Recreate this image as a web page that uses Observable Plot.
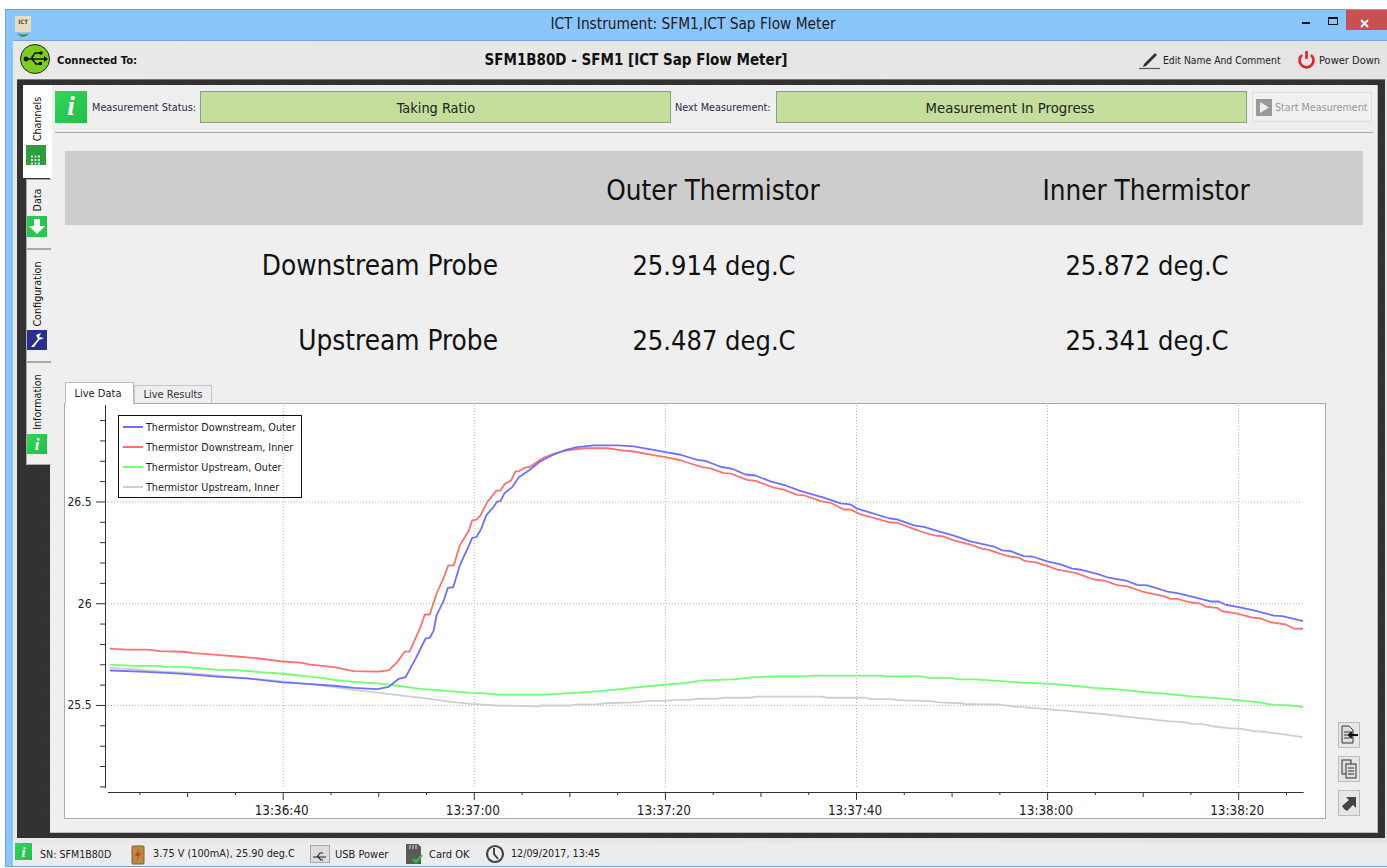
<!DOCTYPE html>
<html>
<head>
<meta charset="utf-8">
<script src="https://cdn.jsdelivr.net/npm/d3@7"></script>
<script src="https://cdn.jsdelivr.net/npm/@observablehq/plot@0.6"></script>
<style>
html,body{margin:0;padding:0;background:#fff;}
#app{position:relative;width:1387px;height:868px;overflow:hidden;background:#fff;
 font-family:"DejaVu Sans Condensed","DejaVu Sans",sans-serif;font-stretch:condensed;color:#111;}
.a{position:absolute;box-sizing:border-box;}
.t{position:absolute;white-space:nowrap;line-height:1;}
.vt{position:absolute;white-space:nowrap;line-height:1;transform:translate(-50%,-50%) rotate(-90deg);font-size:10.7px;}
svg{overflow:visible;}
</style>
</head>
<body>
<div id="app"></div>
<script>
// Sample times, in seconds after 13:36:00
const downOuterSec = [21.93,25.07,29.25,33.44,36.23,40,42.86,45.30,47.39,49.84,51.05,52.10,52.80,53.85,54.89,55.34,55.76,56.04,56.81,57.23,57.79,58.48,59.43,59.78,60.23,60.72,61.25,61.98,62.40,62.74,63.16,63.97,64.66,65.70,66.93,68.32,69.37,70.77,72.51,75.12,76.69,78.44,80.01,81.58,83.33,84.20,85.77,86.99,88.38,89.43,91.00,92.57,93.96,95.19,96.58,98.33,99.37,100.07,101.46,103.38,104.26,106.00,107.04,108.61,110.18,111.93,114.37,115.25,116.12,117.51,118.39,119.96,121.35,122.58,123.45,125.19,126.24,128.16,129.38,130.43,132.52,133.57,135.31,137.05,137.92,138.62,140.01,141.58,143.68,144.56,146.65];
const downOuterVal = [25.672,25.666,25.657,25.641,25.633,25.614,25.605,25.597,25.587,25.580,25.592,25.631,25.639,25.729,25.828,25.833,25.869,25.942,26.016,26.078,26.081,26.188,26.286,26.324,26.327,26.368,26.434,26.474,26.502,26.504,26.543,26.573,26.622,26.655,26.700,26.733,26.753,26.769,26.778,26.778,26.773,26.758,26.745,26.732,26.707,26.702,26.673,26.663,26.635,26.630,26.601,26.581,26.557,26.540,26.521,26.493,26.488,26.467,26.448,26.420,26.414,26.385,26.378,26.355,26.335,26.306,26.281,26.262,26.258,26.234,26.232,26.208,26.193,26.172,26.167,26.147,26.130,26.114,26.093,26.090,26.060,26.052,26.032,26.011,26.011,25.995,25.983,25.967,25.942,25.939,25.916];

const downInnerSec = [21.93,23.67,25.77,27.16,29.60,30.64,33.09,34.83,37.28,40,41.81,42.86,45.30,47.39,49.84,51.05,51.93,52.73,53.22,54.37,54.82,55.34,56.04,56.81,57.27,57.85,58.48,59.43,59.78,60.23,60.65,61.35,62.32,62.74,63.19,63.86,64.31,64.66,65.25,65.88,67.11,68.32,69.72,71.46,73.91,75.30,76.69,78.44,80.01,81.58,82.63,83.85,84.72,86.11,86.81,88.56,89.43,91.35,92.39,93.80,94.49,96.23,97.28,98.67,99.37,100.42,102.17,103.56,104.26,106.00,107.04,108.27,108.97,110.18,111.93,112.98,113.85,115.07,116.12,116.99,117.69,118.74,120.13,121.01,122.92,124.84,125.89,127.29,128.33,129.90,132.16,132.86,133.57,134.96,136.01,136.53,137.75,138.27,139.85,141.58,142.28,143.33,144.90,145.77,146.65];
const downInnerVal = [25.779,25.774,25.774,25.767,25.764,25.757,25.749,25.742,25.732,25.716,25.711,25.701,25.688,25.669,25.666,25.673,25.713,25.765,25.765,25.885,25.947,25.947,26.049,26.130,26.188,26.188,26.286,26.360,26.409,26.413,26.434,26.499,26.556,26.556,26.589,26.606,26.650,26.651,26.668,26.674,26.714,26.737,26.753,26.764,26.764,26.755,26.748,26.733,26.720,26.705,26.689,26.671,26.665,26.642,26.640,26.609,26.604,26.570,26.561,26.535,26.533,26.504,26.496,26.463,26.463,26.439,26.417,26.399,26.398,26.368,26.350,26.334,26.332,26.311,26.291,26.272,26.265,26.245,26.232,26.226,26.209,26.203,26.183,26.168,26.152,26.119,26.114,26.091,26.085,26.060,26.037,26.024,26.024,26.006,26.000,25.986,25.980,25.963,25.951,25.931,25.928,25.909,25.898,25.878,25.877];

const upOuterSec = [21.93,24.36,27.16,27.50,29.60,31.34,33.09,34.83,37.62,40,42.51,44.25,45.30,47.39,50.18,51.93,54.37,57.16,59.60,61.0,62.41,67.32,69.42,72.21,74.56,76.42,80.16,82.03,83.89,87.17,89.04,91.14,94.87,95.34,102.58,103.05,106.79,107.49,109.83,110.53,112.40,114.74,117.06,119.88,122.68,124.79,127.35,130.15,132.52,135.31,137.75,140.01,141.94,143.68,145.42,146.65];
const upOuterVal = [25.701,25.695,25.695,25.690,25.690,25.683,25.675,25.675,25.664,25.656,25.643,25.634,25.626,25.616,25.607,25.597,25.582,25.572,25.562,25.560,25.553,25.553,25.559,25.567,25.577,25.587,25.603,25.610,25.623,25.628,25.638,25.643,25.643,25.647,25.647,25.643,25.643,25.636,25.636,25.629,25.628,25.621,25.613,25.607,25.597,25.587,25.579,25.565,25.557,25.544,25.536,25.525,25.516,25.503,25.500,25.492];

const upInnerSec = [21.93,24.36,27.16,29.60,32.05,34.83,37.62,40,42.86,45.30,47.74,50.18,52.80,54.72,57.16,59.60,62.41,65.67,66.61,67.07,70.11,70.80,72.91,73.62,76.65,78.29,80.16,80.86,82.50,83.43,85.30,86.0,88.94,89.50,96.28,96.97,100.95,101.42,103.76,104.22,107.73,108.67,110.99,111.46,114.74,116.60,119.88,122.68,125.96,130.14,132.52,134.26,135.14,136.18,137.23,139.15,140.01,141.58,142.63,144.72,146.65];
const upInnerVal = [25.685,25.678,25.667,25.661,25.651,25.639,25.628,25.618,25.605,25.590,25.574,25.562,25.546,25.536,25.520,25.508,25.500,25.497,25.495,25.500,25.500,25.505,25.505,25.511,25.515,25.523,25.523,25.528,25.528,25.533,25.533,25.538,25.538,25.544,25.544,25.538,25.538,25.531,25.531,25.526,25.521,25.515,25.511,25.506,25.505,25.495,25.482,25.471,25.457,25.435,25.423,25.418,25.410,25.408,25.398,25.388,25.387,25.374,25.371,25.358,25.344];

const seriesNames = ["Thermistor Downstream, Outer","Thermistor Downstream, Inner","Thermistor Upstream, Outer","Thermistor Upstream, Inner"];
const seriesColors = ["#6f6fff","#ff7070","#70ff70","#cfcfcf"];
const yMajor = [25.5,26,26.5];
const yMinor = [25.1,25.2,25.3,25.4,25.6,25.7,25.8,25.9,26.1,26.2,26.3,26.4,26.6,26.7,26.8,26.9];
const xDomainSec = [21.716,146.75];
const xMajorSec = [40,60,80,100,120,140];
const xMediumSec = [30,50,70,90,110,130];
const xMinorSec = [25,35,45,55,65,75,85,95,105,115,125,135,145];
const yDomain = [25.097,26.974];
const probeRows = ["Downstream Probe","Upstream Probe"];
const outerReadings = ["25.914 deg.C","25.487 deg.C"];
const innerReadings = ["25.872 deg.C","25.341 deg.C"];

const app = document.getElementById("app");
function box(x,y,w,h,css){const d=document.createElement("div");d.className="a";
 d.style.cssText=`left:${x}px;top:${y}px;width:${w}px;height:${h}px;${css||""}`;app.appendChild(d);return d;}
function text(s,x,cy,size,opt){opt=opt||{};const d=document.createElement("div");d.className="t";d.textContent=s;
 const tx=opt.anchor==="middle"?"-50%":opt.anchor==="end"?"-100%":"0";
 d.style.cssText=`left:${x}px;top:${cy}px;font-size:${size}px;transform:translate(${tx},-50%);${opt.css||""}`;app.appendChild(d);return d;}
function vtext(s,x,cy){const d=document.createElement("div");d.className="vt";d.textContent=s;d.style.left=x+"px";d.style.top=cy+"px";app.appendChild(d);}
function icon(x,y,w,h,inner){const d=document.createElement("div");d.className="a";d.style.cssText=`left:${x}px;top:${y}px;width:${w}px;height:${h}px;`;
 d.innerHTML=`<svg width="${w}" height="${h}" viewBox="0 0 ${w} ${h}">${inner}</svg>`;app.appendChild(d);}
function infoIcon(x,y,s){box(x,y,s,s,"background:linear-gradient(135deg,#35d45a,#1fc04a);");
 const d=text("i",x+s/2,y+s/2,s*0.85,{anchor:"middle",css:"color:#fff;font-weight:bold;font-style:italic;font-family:'Liberation Serif',serif;"});}

// Window frame
box(5,9,1382,858,"background:#8ac5fb;border:1px solid #6fa3d6;border-right:none;");
box(13,40,1374,826,"background:linear-gradient(90deg,#e9e9e9,#e4e4e4);border-top:1px solid #77a7d8;");
text("ICT Instrument: SFM1,ICT Sap Flow Meter",693,25,15.3,{anchor:"middle",css:"color:#1a1a1a;"});
box(15,16,16,16,"background:#e8dcc0;");
text("ICT",23,22,6,{anchor:"middle",css:"color:#444;font-weight:bold;"});
icon(15,25,16,7,`<path d="M2 0Q8 8 14 0Q8 3 2 0" fill="#4d8a3a"/>`);
box(1346,10,41,20,"background:#c75050;");
icon(1360,17,12,12,`<path d="M1 0L8 7M8 0L1 7" stroke="#fff" stroke-width="1.8"/>`);
box(1302,22,8,2,"background:#111;");
box(1328,17,10,8,"border:1px solid #111;border-top-width:2px;");

// Header row
icon(19,44,32,32,`<circle cx="16" cy="15" r="14.5" fill="#7ccb1f" stroke="#222" stroke-width="1"/>
 <path d="M6 15H25M12 15L16 9H21M13 15L17 20H21" stroke="#111" stroke-width="1.6" fill="none"/><circle cx="7" cy="15" r="2.4" fill="#111"/><circle cx="22" cy="9" r="1.8" fill="#111"/><rect x="20" y="18" width="3" height="3" fill="#111"/><path d="M25 12L29 15L25 18Z" fill="#111"/>`);
text("Connected To:",57,60.5,11.2,{css:"font-weight:bold;"});
text("SFM1B80D - SFM1 [ICT Sap Flow Meter]",636,60,15,{anchor:"middle",css:"font-weight:bold;"});
icon(1139,50,22,20,`<path d="M5 14L16 3L18 5L7 16L4 17Z" fill="#333"/><path d="M0 18.5H21" stroke="#555" stroke-width="1.2"/>`);
text("Edit Name And Comment",1163,60,10.3,{css:"color:#222;"});
icon(1297,50,19,19,`<path d="M5 5A7 7 0 1 0 14 5" fill="none" stroke="#e0242a" stroke-width="2.6"/><path d="M9.5 1V9" stroke="#e0242a" stroke-width="2.6"/>`);
text("Power Down",1319,60,11,{css:"color:#222;"});

// Dark frame and panel
box(17,79,1368,759,"background:#333;background-image:radial-gradient(#2a2a2a 1px,transparent 1px);background-size:3px 3px;border-top:1px solid #777;");
box(50,85,1328,748,"background:#efefef;border-right:1px solid #bbb;border-bottom:1px solid #bbb;");

// Side tabs
const tabCss="background:#f0f0f0;border:1px solid #aaa;border-right:none;";
box(26,179,25,70,tabCss);box(26,249,25,113,tabCss);box(26,362,25,103,tabCss);
box(23,85,29,93,"background:#fff;");
vtext("Channels",38,119);vtext("Data",38,200);vtext("Configuration",38,294);vtext("Information",38,402);
box(26,145,20,20,"background:#2f9e3a;");
icon(31,150,10,10,`<path d="M0 1.5H10M0 5H10M0 8.5H10" stroke="#d8f0d8" stroke-width="2" stroke-dasharray="2 1.5"/>`);
box(27,216,20,21,"background:#2bc651;");
icon(28,218,18,18,`<path d="M6 1H12V8H17L9 16L1 8H6Z" fill="#fff"/>`);
box(27,330,20,20,"background:#2a2f8e;");
icon(27,330,20,20,`<path d="M4 17L11 9L9 5L14 3L12 7L17 8L12 10L7 17Z" fill="#fff"/>`);
infoIcon(27,434,20);

// Measurement row
infoIcon(55,91,32);
text("Measurement Status:",92,108,10.8,{css:"color:#2a2a44;"});
box(200,91,471,32,"background:#c5de9b;border:1px solid #8e9e8e;");
text("Taking Ratio",436,108,14.4,{anchor:"middle",css:"color:#222;"});
text("Next Measurement:",675,108,10.8,{css:"color:#2a2a44;"});
box(776,91,471,32,"background:#c5de9b;border:1px solid #8e9e8e;");
text("Measurement In Progress",1010,108,14.8,{anchor:"middle",css:"color:#222;"});
box(1252,92,120,30,"background:#f0f0f0;border:1px solid #ddd;");
box(1256,99,16,17,"background:#999;");
icon(1256,99,16,17,`<path d="M4 3L13 8.5L4 14Z" fill="#eee"/>`);
text("Start Measurement",1275,108,10.7,{css:"color:#999;"});
box(55,132,1318,1,"background:#aaa;");

// Reading table
box(65,151,1298,74,"background:#cdcdcd;");
text("Outer Thermistor",713,190.5,27.6,{anchor:"middle"});
text("Inner Thermistor",1146,190.5,27.6,{anchor:"middle"});
probeRows.forEach((p,i)=>{const cy=265+i*75;
 text(p,498,cy+0.5,27.7,{anchor:"end"});
 text(outerReadings[i],714,cy,27,{anchor:"middle"});
 text(innerReadings[i],1147,cy,27,{anchor:"middle"});});

// Chart tabs and pane
box(134,385,78,19,"background:#eee;border:1px solid #c4c4c4;");
text("Live Results",173,394,11,{anchor:"middle",css:"color:#333;"});
box(64,403,1262,416,"background:#fff;border:1px solid #aaa;");
box(65,382,69,22,"background:#fff;border:1px solid #bbb;border-bottom:none;");
text("Live Data",98,393,11,{anchor:"middle",css:"color:#222;"});

// Chart
function toTime(sec){return new Date(Date.UTC(2017,8,12,13,36,0)+sec*1000);}
function table(secs,vals,name){return secs.map((s,i)=>({time:toTime(s),value:vals[i],series:name}));}
const downOuter=table(downOuterSec,downOuterVal,seriesNames[0]);
const downInner=table(downInnerSec,downInnerVal,seriesNames[1]);
const upOuter=table(upOuterSec,upOuterVal,seriesNames[2]);
const upInner=table(upInnerSec,upInnerVal,seriesNames[3]);
const grid={stroke:"#b4b4b4",strokeDasharray:"1,2",strokeWidth:1};
const chart=Plot.plot({
 width:1260,height:415,
 marginLeft:43,marginRight:22.3,marginTop:2,marginBottom:31,
 style:{background:"transparent",fontFamily:'"DejaVu Sans Condensed","DejaVu Sans",sans-serif',fontStretch:"condensed",fontSize:"12px",color:"#222"},
 x:{type:"utc",domain:xDomainSec.map(toTime),axis:null},
 y:{domain:yDomain,axis:null},
 marks:[
  Plot.ruleX(xMajorSec.map(toTime),grid),
  Plot.ruleY(yMajor,grid),
  Plot.line(upInner,{x:"time",y:"value",stroke:seriesColors[3],strokeWidth:1.8}),
  Plot.line(upOuter,{x:"time",y:"value",stroke:seriesColors[2],strokeWidth:1.8}),
  Plot.line(downInner,{x:"time",y:"value",stroke:seriesColors[1],strokeWidth:1.8}),
  Plot.line(downOuter,{x:"time",y:"value",stroke:seriesColors[0],strokeWidth:1.8}),
  Plot.frame({anchor:"left",stroke:"#333",dx:-3}),
  Plot.frame({anchor:"bottom",stroke:"#333",dy:5}),
  Plot.axisY({ticks:yMajor,tickSize:9,tickPadding:5,dx:-3,tickFormat:d=>String(d),label:null,stroke:"#333",fill:"#222"}),
  Plot.axisY({ticks:yMinor,tickSize:5,dx:-3,label:null,stroke:"#333",fill:"none"}),
  Plot.axisX({ticks:xMajorSec.map(toTime),tickSize:8,dy:5,label:null,stroke:"#333",fill:"none"}),
  Plot.axisX({ticks:xMajorSec.map(toTime),tickSize:0,tickPadding:13,dy:5,dx:-1.5,fontSize:13.4,tickFormat:d3.utcFormat("%H:%M:%S"),label:null,fill:"#222",tickRotate:0}),
  Plot.axisX({ticks:xMediumSec.map(toTime),tickSize:5,dy:5,label:null,stroke:"#333",fill:"none"}),
  Plot.axisX({ticks:xMinorSec.map(toTime),tickSize:3,dy:5,label:null,stroke:"#333",fill:"none"})
 ]
});
chart.style.position="absolute";chart.style.left="65px";chart.style.top="403px";
app.appendChild(chart);

// Legend
box(118,415,184,83,"border:1px solid #111;");
seriesNames.forEach((n,i)=>{const cy=427+i*20;
 box(123,cy-1,20,2,`background:${seriesColors[i]};`);
 text(n,146,cy+0.5,10.7,{css:"color:#222;"});});

// Side buttons
[722,756,790].forEach((y,i)=>{box(1338,y,22,26,"background:#e6e6e6;border:1px solid #bbb;");});
icon(1340,725,18,20,`<path d="M2 1H9L13 5V18H2Z" fill="#ddd" stroke="#333"/><path d="M4 7H10M4 10H9M4 13H10" stroke="#333"/><path d="M9 10H18M12 7L9 10L12 13" stroke="#111" stroke-width="2" fill="none"/>`);
icon(1341,759,17,20,`<rect x="1" y="1" width="9" height="14" fill="#ddd" stroke="#333"/><rect x="5" y="5" width="10" height="14" fill="#ddd" stroke="#333"/><path d="M7 9H13M7 12H13M7 15H13" stroke="#333"/>`);
icon(1341,794,17,18,`<path d="M3 15L1 12L8 6L5 3H15V14L12 11L6 17Z" fill="#444"/>`);

// Status bar
box(13,843,1374,23,"background:#ececec;");
infoIcon(15,843,17);
text("SN: SFM1B80D",40,854,10.6,{css:"color:#222;"});
icon(130,843,16,22,`<rect x="2" y="3" width="12" height="18" rx="1" fill="#b98a45" stroke="#7a6030"/><path d="M9 5L5 13H8L6 19L11 10H8Z" fill="#d83a1a"/>`);
text("3.75 V (100mA), 25.90 deg.C",153,854,10.8,{css:"color:#222;"});
box(310,845,20,18,"background:#ddd;border:1px solid #aaa;");
icon(312,848,16,12,`<path d="M1 6H14M5 6L8 2H11M6 6L9 9H11" stroke="#222" fill="none" stroke-width="1.2"/>`);
text("USB Power",335,854,11,{css:"color:#222;"});
icon(405,843,19,22,`<path d="M1 1H13L16 4V21H1Z" fill="#5a5a5a"/><path d="M5 2V6M8 2V6M11 2V6" stroke="#ddd"/><path d="M8 16L11 19L17 12" stroke="#3bb54a" stroke-width="2.5" fill="none"/>`);
text("Card OK",429,854,11,{css:"color:#222;"});
icon(485,844,20,20,`<circle cx="10" cy="10" r="8" fill="#eee" stroke="#444" stroke-width="2.2"/><path d="M9 4V10L13 15" stroke="#444" stroke-width="2" fill="none"/>`);
text("12/09/2017, 13:45",511,854,10.7,{css:"color:#222;"});
</script>
</body>
</html>
